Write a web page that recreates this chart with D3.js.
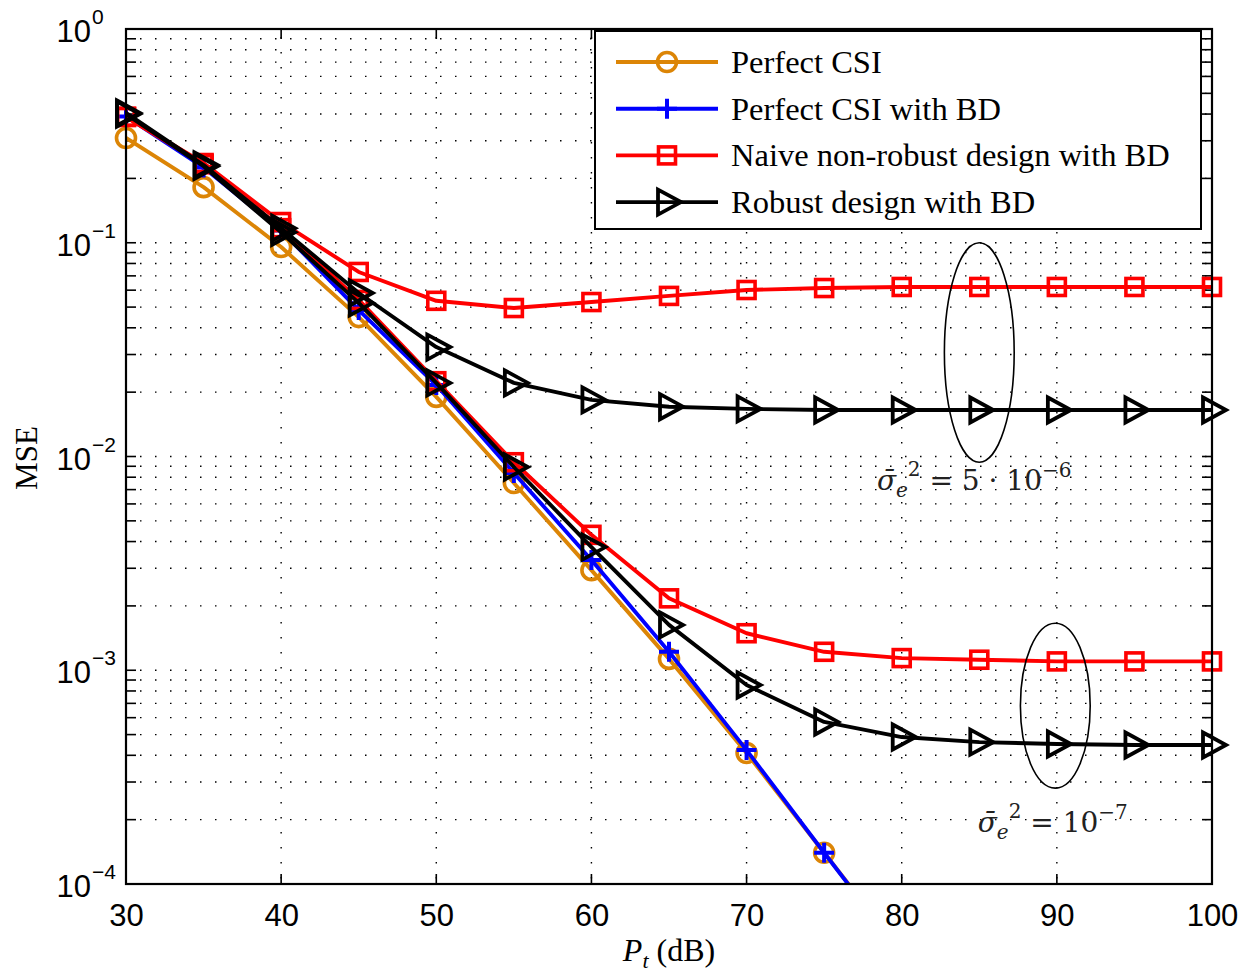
<!DOCTYPE html>
<html>
<head>
<meta charset="utf-8">
<script src="https://cdn.jsdelivr.net/npm/d3@7"></script>
<style>
  html, body { margin: 0; padding: 0; background: #fff; }
  svg { display: block; }
</style>
</head>
<body>
<svg id="chart" width="1253" height="972"></svg>
<script>
// ---------------- data ----------------
const pt = [30, 35, 40, 45, 50, 55, 60, 65, 70, 75, 80, 85, 90, 95, 100];
const xTicks = [30, 40, 50, 60, 70, 80, 90, 100];
const yPowers = [0, -1, -2, -3, -4];

const perfectCSI     = [0.309, 0.182, 0.0955, 0.0449, 0.0190, 0.00752, 0.00294, 0.00113, 4.10e-4, 1.40e-4, 4.8e-5];
const perfectCSIBD   = [0.390, 0.225, 0.114, 0.0484, 0.0216, 0.00837, 0.00328, 0.00122, 4.23e-4, 1.40e-4, 4.7e-5];
const naiveHigh      = [0.388, 0.236, 0.125, 0.0730, 0.0535, 0.0495, 0.0528, 0.0564, 0.0601, 0.0614, 0.0621, 0.0621, 0.0621, 0.0621, 0.0621];
const naiveLow       = [0.388, 0.233, 0.117, 0.0540, 0.0225, 0.00940, 0.00430, 0.00217, 0.00149, 0.00122, 0.00114, 0.00112, 0.00110, 0.00110, 0.00110];
const robustHigh     = [0.405, 0.231, 0.117, 0.0582, 0.0325, 0.0221, 0.0184, 0.0171, 0.0167, 0.0165, 0.0165, 0.0165, 0.0165, 0.0165, 0.0165];
const robustLow      = [0.400, 0.228, 0.112, 0.0523, 0.0221, 0.00893, 0.00377, 0.00163, 8.53e-4, 5.73e-4, 4.87e-4, 4.61e-4, 4.52e-4, 4.47e-4, 4.47e-4];

const legendLabels = ["Perfect CSI", "Perfect CSI with BD", "Naive non-robust design with BD", "Robust design with BD"];

// annotation ellipses (data space: x centre, x half-width in dB, y top, y bottom)
const ellipses = [
  { cx: 85.0, hw: 2.25, yTop: 0.100, yBot: 0.0094 },
  { cx: 89.9, hw: 2.25, yTop: 1.66e-3, yBot: 2.81e-4 }
];
const annotations = [
  { x: 78.4, y: 10 ** -2.157, exp: "5 \u00B7 10", sup: "\u22126" },
  { x: 84.9, y: 10 ** -3.757, exp: "10", sup: "\u22127" }
];

// ---------------- layout ----------------
const svg = d3.select("#chart");
const M = { left: 126, top: 29, right: 1212, bottom: 884 };
const x = d3.scaleLinear().domain([30, 100]).range([M.left, M.right]);
const y = d3.scaleLog().domain([1e-4, 1]).range([M.bottom, M.top]);

const COL = { orange: "#DC8506", blue: "#0000FF", red: "#FF0000", black: "#000000" };
const LW = 3.9;

// clip
svg.append("defs").append("clipPath").attr("id", "plotclip")
  .append("rect").attr("x", M.left).attr("y", M.top)
  .attr("width", M.right - M.left).attr("height", M.bottom - M.top);

// grid
const gGrid = svg.append("g").attr("stroke", "#000").attr("stroke-width", 1.4).attr("fill", "none");
const minorY = [];
for (let p = -4; p < 0; p++) for (let k = 1; k <= 9; k++) minorY.push(k * 10 ** p);
minorY.forEach(v => {
  if (v <= 1e-4) return;
  gGrid.append("line").attr("x1", M.left).attr("x2", M.right)
    .attr("y1", y(v)).attr("y2", y(v))
    .attr("stroke-dasharray", "1.5,13.5").attr("stroke-dashoffset", -14);
});
xTicks.forEach(t => {
  if (t === 30 || t === 100) return;
  gGrid.append("line").attr("x1", x(t)).attr("x2", x(t))
    .attr("y1", M.top).attr("y2", M.bottom)
    .attr("stroke-dasharray", "1.5,13.5").attr("stroke-dashoffset", -8);
});

// ticks
const gTicks = svg.append("g").attr("stroke", "#000").attr("stroke-width", 1.6);
const allY = minorY.concat([1]);
allY.forEach(v => {
  const yy = y(v);
  gTicks.append("line").attr("x1", M.left).attr("x2", M.left + 10).attr("y1", yy).attr("y2", yy);
  gTicks.append("line").attr("x1", M.right - 10).attr("x2", M.right).attr("y1", yy).attr("y2", yy);
});
xTicks.forEach(t => {
  gTicks.append("line").attr("x1", x(t)).attr("x2", x(t)).attr("y1", M.bottom).attr("y2", M.bottom - 10);
  gTicks.append("line").attr("x1", x(t)).attr("x2", x(t)).attr("y1", M.top).attr("y2", M.top + 10);
});

// axes via d3 (labels only)
const xAxis = d3.axisBottom(x).tickValues(xTicks).tickSize(0).tickPadding(0).tickFormat(d3.format("d"));
const gx = svg.append("g").attr("transform", `translate(0,${M.bottom})`).call(xAxis);
gx.select(".domain").remove();
gx.selectAll("text").attr("font-family", "Liberation Sans, Arial, sans-serif")
  .attr("font-size", 31).attr("fill", "#000").attr("dy", null).attr("y", 42);

const gy = svg.append("g");
yPowers.forEach(p => {
  const yy = y(10 ** p);
  gy.append("text").attr("font-family", "Liberation Sans, Arial, sans-serif").attr("fill", "#000")
    .attr("x", 91).attr("y", yy + 13).attr("text-anchor", "end").attr("font-size", 31).text("10");
  gy.append("text").attr("font-family", "Liberation Sans, Arial, sans-serif").attr("fill", "#000")
    .attr("x", 92).attr("y", yy - 5).attr("font-size", 21)
    .text(p === 0 ? "0" : "\u2212" + (-p));
});

// axis titles
svg.append("text").attr("x", (M.left + M.right) / 2).attr("y", 961)
  .attr("text-anchor", "middle").attr("font-family", "Liberation Serif, Times New Roman, serif")
  .attr("font-size", 32).attr("fill", "#000")
  .call(t => {
    t.append("tspan").attr("font-style", "italic").text("P");
    t.append("tspan").attr("font-style", "italic").attr("font-size", 22).attr("dy", 7).text("t");
    t.append("tspan").attr("dy", -7).text(" (dB)");
  });
svg.append("text").attr("transform", `translate(37,458) rotate(-90)`)
  .attr("text-anchor", "middle").attr("font-family", "Liberation Serif, Times New Roman, serif")
  .attr("font-size", 31).attr("fill", "#000").text("MSE");

// ---------------- series ----------------
const series = [
  { vals: perfectCSI,   color: COL.orange, marker: "circle" },
  { vals: perfectCSIBD, color: COL.blue,   marker: "plus" },
  { vals: naiveHigh,    color: COL.red,    marker: "square" },
  { vals: naiveLow,     color: COL.red,    marker: "square" },
  { vals: robustHigh,   color: COL.black,  marker: "triangle" },
  { vals: robustLow,    color: COL.black,  marker: "triangle" }
];

const line = d3.line().x((d, i) => x(pt[i])).y(d => y(d));

function drawMarker(g, type, cx, cy, color) {
  if (type === "circle") {
    g.append("circle").attr("cx", cx).attr("cy", cy).attr("r", 9.5)
      .attr("fill", "none").attr("stroke", color).attr("stroke-width", 3.6);
  } else if (type === "plus") {
    g.append("path").attr("d", `M${cx - 10},${cy}H${cx + 10}M${cx},${cy - 10}V${cy + 10}`)
      .attr("stroke", color).attr("stroke-width", 4).attr("fill", "none");
  } else if (type === "square") {
    g.append("rect").attr("x", cx - 8.5).attr("y", cy - 8.5).attr("width", 17).attr("height", 17)
      .attr("fill", "none").attr("stroke", color).attr("stroke-width", 3.6);
  } else if (type === "triangle") {
    g.append("path").attr("d", `M${cx - 9},${cy - 12.5}L${cx + 14},${cy}L${cx - 9},${cy + 12.5}Z`)
      .attr("fill", "none").attr("stroke", color).attr("stroke-width", 3.8).attr("stroke-linejoin", "miter");
  }
}

const gSeries = svg.append("g");
series.forEach(s => {
  const g = gSeries.append("g");
  g.append("path").datum(s.vals).attr("d", line).attr("clip-path", "url(#plotclip)")
    .attr("fill", "none").attr("stroke", s.color).attr("stroke-width", LW).attr("stroke-linejoin", "round");
  s.vals.forEach((v, i) => {
    if (v < 1e-4 || v > 1) return;
    drawMarker(g, s.marker, x(pt[i]), y(v), s.color);
  });
});

// frame
svg.append("rect").attr("x", M.left).attr("y", M.top).attr("width", M.right - M.left).attr("height", M.bottom - M.top)
  .attr("fill", "none").attr("stroke", "#000").attr("stroke-width", 2.2);

// ellipses + annotations
ellipses.forEach(e => {
  const cy = (y(e.yTop) + y(e.yBot)) / 2;
  const ry = (y(e.yBot) - y(e.yTop)) / 2;
  const rx = x(e.cx + e.hw) - x(e.cx);
  svg.append("ellipse").attr("cx", x(e.cx)).attr("cy", cy).attr("rx", rx).attr("ry", ry)
    .attr("fill", "none").attr("stroke", "#000").attr("stroke-width", 1.6);
});
annotations.forEach(a => {
  const t = svg.append("text").attr("x", x(a.x)).attr("y", y(a.y))
    .attr("font-family", "DejaVu Serif, Liberation Serif, serif").attr("font-size", 28).attr("fill", "#222");
  t.append("tspan").attr("font-style", "italic").text("\u03C3\u0304");
  t.append("tspan").attr("font-style", "italic").attr("font-size", 20).attr("dy", 7).text("e");
  t.append("tspan").attr("font-size", 20).attr("dy", -21).text("2");
  t.append("tspan").attr("dy", 14).text(" = " + a.exp);
  t.append("tspan").attr("font-size", 20).attr("dy", -13).text(a.sup);
});

// ---------------- legend ----------------
const L = { x: 595, y: 31, w: 606, h: 198 };
const gL = svg.append("g");
gL.append("rect").attr("x", L.x).attr("y", L.y).attr("width", L.w).attr("height", L.h)
  .attr("fill", "#fff").attr("stroke", "#000").attr("stroke-width", 2);
const legendItems = [
  { label: legendLabels[0], color: COL.orange, marker: "circle" },
  { label: legendLabels[1], color: COL.blue, marker: "plus" },
  { label: legendLabels[2], color: COL.red, marker: "square" },
  { label: legendLabels[3], color: COL.black, marker: "triangle" }
];
legendItems.forEach((it, i) => {
  const cy = 62 + i * 46.7;
  gL.append("line").attr("x1", 616).attr("x2", 718).attr("y1", cy).attr("y2", cy)
    .attr("stroke", it.color).attr("stroke-width", LW);
  drawMarker(gL, it.marker, 667, cy, it.color);
  gL.append("text").attr("x", 731).attr("y", cy + 11)
    .attr("font-family", "Liberation Serif, Times New Roman, serif").attr("font-size", 32.5)
    .attr("fill", "#000").text(it.label);
});
</script>
</body>
</html>
